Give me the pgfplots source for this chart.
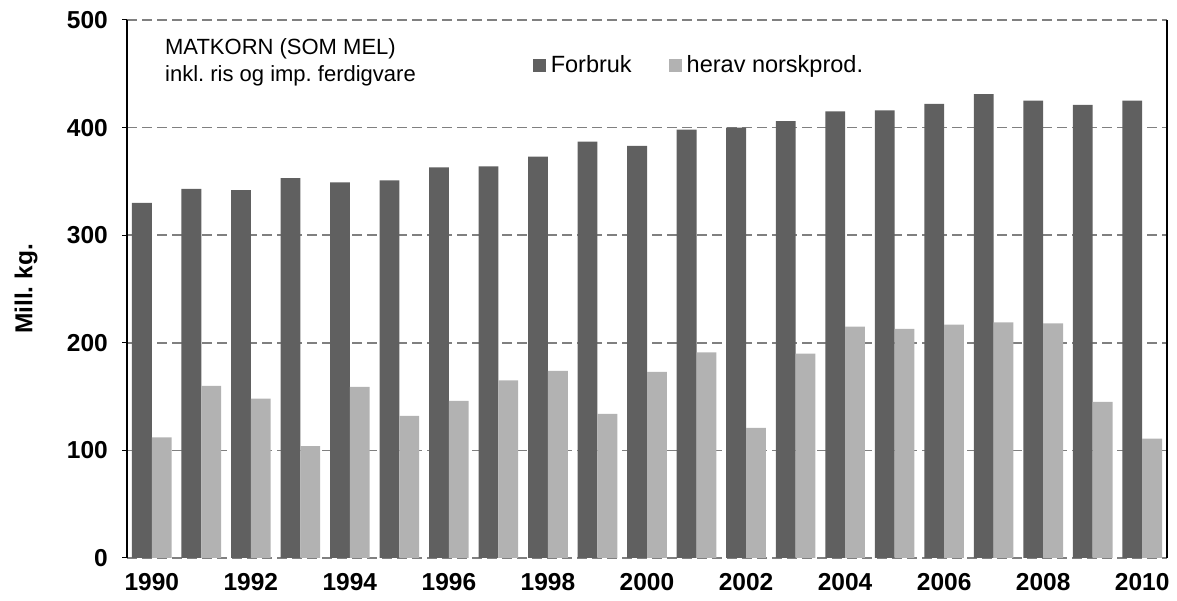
\documentclass[border=0pt]{standalone}
\usepackage{fontspec}
\setmainfont{Liberation Sans}
\usepackage{pgfplots}
\pgfplotsset{compat=1.18}
\definecolor{darkbar}{HTML}{606060}
\definecolor{lightbar}{HTML}{B2B2B2}
\definecolor{gridgray}{HTML}{808080}
\newcommand{\fs}{\fontsize{22bp}{26bp}\selectfont}
\newcommand{\fl}{\fontsize{23.5bp}{26bp}\selectfont}
\newcommand{\ft}{\fontsize{24.5bp}{26bp}\selectfont\bfseries}
\frenchspacing

\begin{document}
\begin{tikzpicture}
\useasboundingbox (0,0) rectangle (1177bp,601bp);
\begin{axis}[
  at={(127bp,43bp)}, anchor=south west,
  scale only axis, width=1040bp, height=538bp,
  ybar=0pt, bar width=0.4,
  xmin=1989.5, xmax=2010.5, ymin=0, ymax=500,
  xtick={1990,1992,...,2010},
  ytick={0,100,...,500},
  /pgf/number format/assume math mode=true,
  x tick label style={/pgf/number format/1000 sep={}, font=\ft, inner sep=0pt, yshift=-10bp},
  y tick label style={font=\ft, inner sep=0pt, xshift=-14bp},
  separate axis lines,
  x axis line style={draw=none},
  y axis line style={black, line width=1.2bp},
  ymajorgrids,
  major grid style={gridgray, dash pattern=on 10bp off 5bp, line width=1.5bp},
  tick align=outside, major tick length=5bp,
  ytick pos=left, ytick style={black, line width=1bp},
  xtick style={draw=none},
  ylabel={Mill. kg.},
  every axis y label/.style={at={(axis description cs:0,0.5)}, xshift=-101bp, rotate=90, anchor=center, font=\ft},
  legend style={at={(axis description cs:0.39,0.916)}, anchor=west, draw=none, fill=none,
    font=\fl, inner sep=0pt, /tikz/every even column/.append style={column sep=35bp}},
  legend columns=2,
  legend image code/.code={\fill[#1] (0bp,-6.5bp) rectangle (13bp,6.5bp); \path (16bp,0bp);},
]
\addplot[fill=darkbar, draw=none] coordinates {
  (1990,330) (1991,343) (1992,342) (1993,353) (1994,349) (1995,351) (1996,363)
  (1997,364) (1998,373) (1999,387) (2000,383) (2001,398) (2002,400) (2003,406)
  (2004,415) (2005,416) (2006,422) (2007,431) (2008,425) (2009,421) (2010,425)
};
\addplot[fill=lightbar, draw=none] coordinates {
  (1990,112) (1991,160) (1992,148) (1993,104) (1994,159) (1995,132) (1996,146)
  (1997,165) (1998,174) (1999,134) (2000,173) (2001,191) (2002,121) (2003,190)
  (2004,215) (2005,213) (2006,217) (2007,219) (2008,218) (2009,145) (2010,111)
};
\legend{Forbruk, herav norskprod.}
\node[anchor=base west, font=\fs, inner sep=0pt] at (axis description cs:0.0365,0.935) {MATKORN (SOM MEL)};
\node[anchor=base west, font=\fs, inner sep=0pt] at (axis description cs:0.0365,0.885) {inkl. ris og imp. ferdigvare};
\end{axis}
\end{tikzpicture}
\end{document}
